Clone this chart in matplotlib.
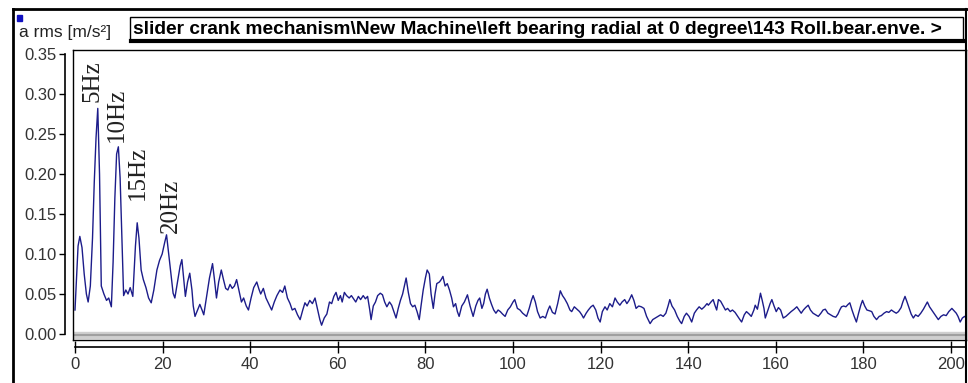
import matplotlib
matplotlib.use("Agg")
import matplotlib.pyplot as plt
from matplotlib.patches import Rectangle
from matplotlib.lines import Line2D

# spectrum (Hz, m/s^2)
freq_hz = [
    0.0, 0.3, 0.7, 1.1, 1.6, 2.1, 2.6, 3.0, 3.5, 4.0, 4.4, 4.8, 5.2, 5.6, 6.0, 6.6, 7.2, 7.7, 8.3, 8.7,
    9.1, 9.5, 9.9, 10.3, 10.7, 11.1, 11.6, 12.1, 12.6, 13.2, 13.8, 14.2, 14.6, 15.1, 15.6, 16.2, 16.8, 17.4, 18.0, 18.7,
    19.3, 19.9, 20.5, 20.9, 21.4, 21.9, 22.4, 22.8, 23.4, 24.0, 24.4, 24.8, 25.2, 25.7, 26.2, 26.7, 27.0, 27.4, 28.0, 28.5,
    29.0, 29.4, 30.0, 30.7, 31.4, 31.8, 32.3, 32.8, 33.4, 33.9, 34.4, 34.9, 35.4, 35.9, 36.4, 36.9, 37.4, 38.0, 38.5, 39.1,
    39.6, 40.2, 40.8, 41.5, 42.0, 42.4, 43.0, 43.6, 44.2, 44.9, 45.5, 46.1, 46.8, 47.4, 47.9, 48.5, 49.1, 49.6, 50.2, 50.8,
    51.4, 52.0, 52.5, 53.0, 53.6, 54.2, 54.8, 55.4, 55.9, 56.3, 56.9, 57.5, 58.1, 58.6, 59.1, 59.6, 60.1, 60.6, 61.0, 61.5,
    62.0, 62.6, 63.1, 63.6, 64.1, 64.7, 65.2, 65.8, 66.3, 66.8, 67.3, 67.6, 68.1, 68.6, 69.1, 69.7, 70.2, 70.7, 71.2, 71.8,
    72.3, 72.8, 73.3, 73.8, 74.3, 74.8, 75.2, 75.6, 76.1, 76.6, 77.1, 77.6, 78.1, 78.6, 79.0, 79.5, 80.0, 80.4, 80.9, 81.3,
    81.8, 82.2, 82.6, 83.2, 83.6, 84.0, 84.5, 85.0, 85.5, 86.0, 86.4, 86.9, 87.3, 87.7, 88.3, 88.9, 89.6, 90.2, 90.9, 91.5,
    92.0, 92.4, 92.9, 93.3, 93.7, 94.1, 94.6, 95.1, 95.6, 96.1, 96.6, 97.1, 97.6, 98.2, 98.8, 99.4, 100.0, 100.4, 101.0, 101.6,
    102.2, 103.1, 103.7, 104.2, 104.6, 105.1, 105.6, 106.2, 106.8, 107.4, 108.0, 108.4, 109.0, 109.6, 110.2, 110.8, 111.3, 111.8, 112.4, 113.0,
    113.4, 114.0, 114.6, 115.2, 115.7, 116.1, 116.7, 117.2, 117.8, 118.3, 118.9, 119.4, 119.9, 120.4, 121.0, 121.5, 122.1, 122.7, 123.3, 123.8,
    124.4, 124.9, 125.5, 126.0, 126.5, 127.1, 127.6, 128.1, 128.7, 129.3, 129.9, 130.5, 131.3, 131.9, 132.5, 133.1, 133.7, 134.3, 134.9, 135.4,
    135.8, 136.3, 136.9, 137.5, 138.1, 138.5, 139.1, 139.6, 140.2, 140.8, 141.4, 141.9, 142.5, 143.1, 143.7, 144.3, 144.6, 145.2, 145.7, 146.1,
    146.5, 146.9, 147.4, 147.9, 148.5, 149.0, 149.6, 150.1, 150.7, 151.3, 151.8, 152.2, 152.8, 153.3, 153.9, 154.4, 155.0, 155.3, 155.8, 156.2,
    156.5, 156.9, 157.3, 157.6, 158.2, 158.7, 159.1, 159.6, 160.1, 160.6, 161.1, 161.7, 162.3, 162.9, 163.5, 164.2, 164.8, 165.3, 165.8, 166.3,
    166.8, 167.4, 167.9, 168.5, 169.1, 169.7, 170.3, 170.8, 171.3, 171.9, 172.5, 173.1, 173.7, 174.2, 174.6, 175.0, 175.5, 176.0, 176.5, 176.9,
    177.4, 177.9, 178.4, 178.9, 179.4, 179.8, 180.3, 180.8, 181.4, 181.9, 182.4, 183.0, 183.6, 184.1, 184.7, 185.3, 185.8, 186.4, 186.9, 187.5,
    188.0, 188.6, 189.0, 189.5, 189.9, 190.4, 190.9, 191.4, 191.9, 192.5, 193.1, 193.7, 194.2, 194.6, 195.1, 195.6, 196.1, 196.6, 197.1, 197.7,
    198.3, 198.9, 199.5, 200.2, 200.7, 201.2, 201.6, 202.1, 202.6, 203.1, 203.6,
]
amp_rms = [
    0.030, 0.065, 0.110, 0.122, 0.108, 0.075, 0.050, 0.040, 0.060, 0.120, 0.190, 0.245, 0.282, 0.200, 0.060, 0.050, 0.042, 0.045, 0.034, 0.090,
    0.170, 0.225, 0.234, 0.195, 0.120, 0.048, 0.055, 0.050, 0.058, 0.047, 0.110, 0.139, 0.120, 0.080, 0.068, 0.058, 0.045, 0.039, 0.055, 0.080,
    0.092, 0.100, 0.115, 0.124, 0.100, 0.075, 0.051, 0.045, 0.065, 0.085, 0.093, 0.070, 0.047, 0.065, 0.076, 0.055, 0.035, 0.022, 0.030, 0.037,
    0.030, 0.024, 0.045, 0.070, 0.088, 0.070, 0.045, 0.065, 0.080, 0.068, 0.057, 0.055, 0.062, 0.057, 0.060, 0.068, 0.055, 0.040, 0.045, 0.035,
    0.030, 0.045, 0.058, 0.065, 0.056, 0.050, 0.057, 0.045, 0.038, 0.030, 0.040, 0.048, 0.055, 0.052, 0.060, 0.045, 0.038, 0.030, 0.032, 0.024,
    0.018, 0.030, 0.039, 0.035, 0.042, 0.038, 0.045, 0.030, 0.018, 0.011, 0.020, 0.025, 0.040, 0.038, 0.047, 0.052, 0.042, 0.048, 0.040, 0.052,
    0.048, 0.045, 0.048, 0.044, 0.040, 0.047, 0.043, 0.048, 0.044, 0.047, 0.030, 0.018, 0.035, 0.040, 0.048, 0.051, 0.049, 0.040, 0.034, 0.040,
    0.036, 0.028, 0.020, 0.032, 0.042, 0.050, 0.060, 0.070, 0.052, 0.038, 0.034, 0.036, 0.028, 0.018, 0.035, 0.055, 0.070, 0.080, 0.075, 0.050,
    0.032, 0.050, 0.063, 0.065, 0.068, 0.072, 0.060, 0.063, 0.055, 0.045, 0.034, 0.038, 0.028, 0.022, 0.035, 0.040, 0.049, 0.035, 0.022, 0.035,
    0.042, 0.045, 0.032, 0.038, 0.050, 0.056, 0.045, 0.037, 0.030, 0.026, 0.030, 0.028, 0.025, 0.022, 0.030, 0.034, 0.040, 0.043, 0.032, 0.030,
    0.026, 0.022, 0.032, 0.042, 0.048, 0.040, 0.028, 0.020, 0.022, 0.020, 0.030, 0.035, 0.027, 0.025, 0.038, 0.054, 0.048, 0.044, 0.038, 0.030,
    0.028, 0.034, 0.031, 0.028, 0.024, 0.020, 0.026, 0.030, 0.034, 0.036, 0.030, 0.020, 0.015, 0.028, 0.034, 0.030, 0.038, 0.034, 0.045, 0.040,
    0.036, 0.040, 0.043, 0.038, 0.042, 0.049, 0.042, 0.032, 0.035, 0.034, 0.032, 0.022, 0.013, 0.018, 0.020, 0.022, 0.024, 0.022, 0.026, 0.035,
    0.043, 0.035, 0.030, 0.022, 0.016, 0.013, 0.022, 0.026, 0.022, 0.015, 0.026, 0.030, 0.034, 0.031, 0.034, 0.038, 0.036, 0.040, 0.043, 0.036,
    0.030, 0.043, 0.041, 0.036, 0.030, 0.032, 0.028, 0.030, 0.027, 0.022, 0.018, 0.015, 0.024, 0.028, 0.025, 0.022, 0.030, 0.036, 0.031, 0.042,
    0.051, 0.042, 0.032, 0.020, 0.030, 0.038, 0.043, 0.035, 0.028, 0.033, 0.030, 0.020, 0.022, 0.025, 0.028, 0.031, 0.034, 0.030, 0.026, 0.030,
    0.033, 0.036, 0.030, 0.026, 0.024, 0.022, 0.026, 0.030, 0.031, 0.026, 0.024, 0.022, 0.021, 0.025, 0.030, 0.034, 0.035, 0.034, 0.037, 0.039,
    0.030, 0.022, 0.015, 0.026, 0.036, 0.042, 0.035, 0.030, 0.029, 0.028, 0.022, 0.018, 0.022, 0.023, 0.026, 0.028, 0.027, 0.030, 0.028, 0.026,
    0.028, 0.033, 0.040, 0.047, 0.041, 0.033, 0.025, 0.020, 0.024, 0.022, 0.026, 0.031, 0.036, 0.040, 0.034, 0.030, 0.026, 0.022, 0.018, 0.022,
    0.024, 0.023, 0.028, 0.032, 0.029, 0.026, 0.022, 0.015, 0.020, 0.022, 0.020,
]

peak_labels = ["5Hz", "10Hz", "15Hz", "20Hz"]
label_x = [3.9, 9.6, 14.4, 21.9]
label_y = [0.29, 0.24, 0.168, 0.126]

y_ticks = [0.00, 0.05, 0.10, 0.15, 0.20, 0.25, 0.30, 0.35]
x_ticks = [0, 20, 40, 60, 80, 100, 120, 140, 160, 180, 200]

unit_text = "a rms [m/s\u00b2]"
title_text = "slider crank mechanism\\New Machine\\left bearing radial at 0 degree\\143 Roll.bear.enve. >"

W, H = 968, 383
sans = ["Liberation Sans", "DejaVu Sans"]
tick_col = "#333333"
line_col = "#1c1c8a"


def box(l, t, r, b):
    # pixel box (left, top, right, bottom) -> figure fraction rect
    return [l / W, (H - b) / H, (r - l) / W, (b - t) / H]


fig = plt.figure(figsize=(W / 100, H / 100), dpi=100)

# outer window frame
fig.add_artist(Line2D([13 / W, 13 / W], [0, 1 - 9 / H], color="black", lw=2))
fig.add_artist(Line2D([13 / W, 967 / W], [1 - 9 / H, 1 - 9 / H], color="black", lw=2))
fig.add_artist(Line2D([966 / W, 966 / W], [0, 1 - 9 / H], color="black", lw=1.5))

# small blue marker + unit
fig.add_artist(Rectangle((17 / W, 1 - 21 / H), 5 / W, 6 / H, color="#1010c0"))
fig.text(19 / W, 1 - 32 / H, unit_text, family=sans, fontsize=12.5, color="#222222", va="center")

# title box with heavy bottom edge
fig.add_artist(Rectangle((130 / W, 1 - 41 / H), 833 / W, 24 / H, facecolor="white",
                         edgecolor="black", lw=1))
fig.add_artist(Line2D([131 / W, 964 / W], [1 - 41 / H, 1 - 41 / H], color="black", lw=3))
fig.text(133 / W, 1 - 30 / H, title_text, family=sans, fontsize=13.8, fontweight="bold",
         color="black", va="center")

# main plot box
ax = fig.add_axes(box(73, 50, 966, 340))
ax.plot(freq_hz, amp_rms, color=line_col, lw=1)
ax.set_xlim((73 - 75) / 4.38, (966 - 75) / 4.38)
ax.set_ylim((334 - 340) / 800, (334 - 50) / 800)
ax.axhspan(-0.0055, 0.002, color="#cfcfcf", zorder=0)
ax.axhline(-0.0015, color="#a0a0a0", lw=1.5, zorder=0)
ax.set_xticks([])
ax.set_yticks([])
for s in ax.spines.values():
    s.set_color("black")
    s.set_linewidth(1)

for lab, lx, ly in zip(peak_labels, label_x, label_y):
    ax.text(lx, ly, lab, rotation=90, ha="center", va="bottom",
            family="Liberation Serif", fontsize=18, color="#222222")

# separate y axis on the left
axy = fig.add_axes(box(65, 54, 66, 334))
axy.set_ylim(0, 0.35)
axy.set_yticks(y_ticks)
axy.set_yticklabels(["%.2f" % v for v in y_ticks], family=sans, fontsize=12, color=tick_col)
axy.set_xticks([])
axy.patch.set_visible(False)
for k in ["right", "top", "bottom"]:
    axy.spines[k].set_visible(False)
axy.spines["left"].set_linewidth(1.2)
axy.tick_params(axis="y", direction="out", length=4, width=1, pad=2)

# separate x axis below
axx = fig.add_axes(box(75, 346, 966, 347))
axx.set_xlim(0, (966 - 75) / 4.38)
axx.set_xticks(x_ticks)
axx.set_xticklabels([str(v) for v in x_ticks], family=sans, fontsize=12, color=tick_col)
axx.set_yticks([])
axx.patch.set_visible(False)
for k in ["right", "top", "left"]:
    axx.spines[k].set_visible(False)
axx.spines["bottom"].set_linewidth(1.2)
axx.tick_params(axis="x", direction="inout", length=8, width=1, pad=3)

fig.savefig("out.png", dpi=100)
